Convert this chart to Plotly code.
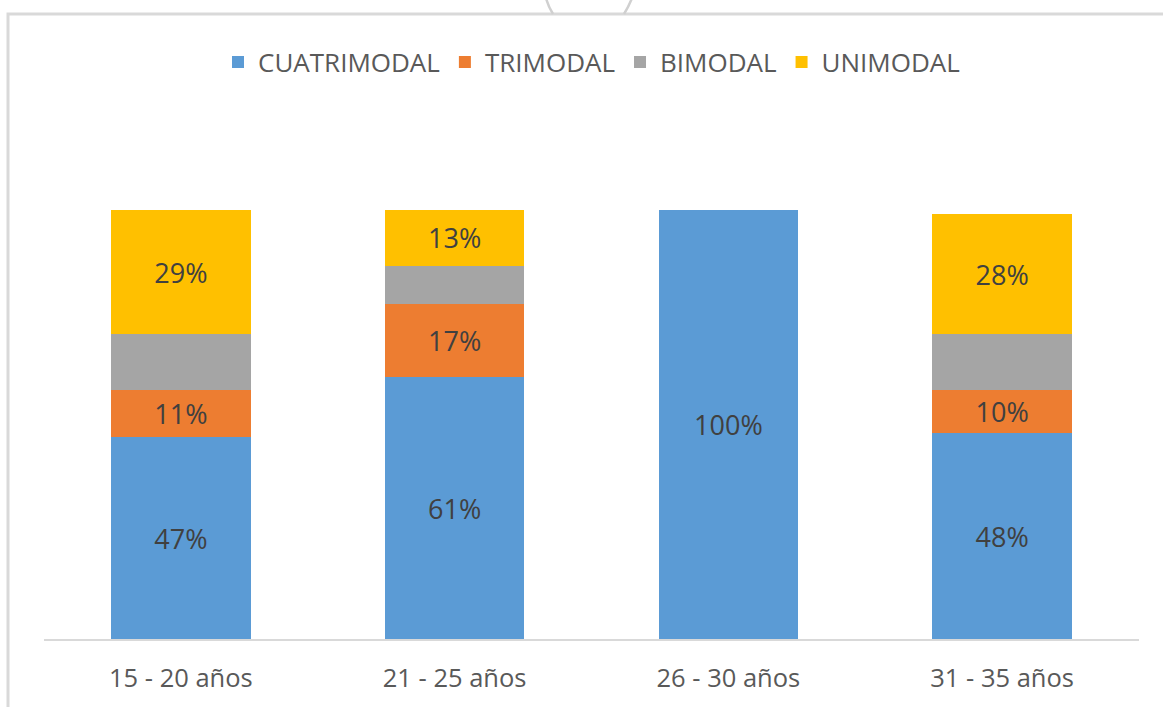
import plotly.graph_objects as go

categories = ["15 - 20 años", "21 - 25 años", "26 - 30 años", "31 - 35 años"]
series_names = ["CUATRIMODAL", "TRIMODAL", "BIMODAL", "UNIMODAL"]
cuatrimodal = [47, 61, 100, 48]
trimodal = [11, 17, 0, 10]
bimodal = [13, 9, 0, 13]
unimodal = [29, 13, 0, 28]
series_values = [cuatrimodal, trimodal, bimodal, unimodal]
series_colors = ["#5B9BD5", "#ED7D31", "#A5A5A5", "#FFC000"]
show_labels = [True, True, False, True]

W, H = 1163, 707
L, R, T, B = 44, 24, 124, 68
PW, PH = W - L - R, H - T - B


def px(x):
    return (x - L) / PW


def py(y):
    return (H - B - y) / PH


FONT = "Open Sans"
fig = go.Figure()
for name, vals, col, show in zip(series_names, series_values, series_colors, show_labels):
    txt = [f"{v}%" if (show and v > 0) else "" for v in vals]
    fig.add_trace(go.Bar(
        name=name, x=categories, y=vals, marker=dict(color=col, line=dict(width=0)),
        text=txt, textposition="inside", insidetextanchor="middle", textangle=0,
        constraintext="none",
        textfont=dict(family=FONT, size=27, color="#404040"),
        hoverinfo="skip",
    ))

shapes = [
    dict(type="rect", xref="paper", yref="paper", x0=px(8), x1=px(1175), y0=py(720), y1=py(14),
         line=dict(color="#D9D9D9", width=3), fillcolor="rgba(0,0,0,0)", layer="below"),
    dict(type="path", xref="paper", yref="paper",
         path=f"M {px(546)},{py(-2)} Q {px(548)},{py(6)} {px(553)},{py(14)}",
         line=dict(color="#D0D0D0", width=2.5)),
    dict(type="path", xref="paper", yref="paper",
         path=f"M {px(632)},{py(-2)} Q {px(629)},{py(6)} {px(624)},{py(14)}",
         line=dict(color="#D0D0D0", width=2.5)),
]

fig.update_layout(
    width=W, height=H, barmode="stack", bargap=0.49,
    margin=dict(l=L, r=R, t=T, b=B),
    paper_bgcolor="white", plot_bgcolor="white",
    font=dict(family=FONT, color="#595959"),
    showlegend=True,
    legend=dict(orientation="h", x=0.5, xanchor="center", y=py(62), yanchor="middle",
                traceorder="normal", font=dict(family=FONT, size=26, color="#595959"),
                itemwidth=30),
    xaxis=dict(showline=True, linecolor="#D9D9D9", linewidth=2, ticks="", showgrid=False,
               tickfont=dict(family=FONT, size=25.5, color="#595959"), ticklabelstandoff=15,
               fixedrange=True),
    yaxis=dict(visible=False, range=[0, 120], showgrid=False, zeroline=False, fixedrange=True),
    shapes=shapes,
)

fig.write_html("out.html", config={"displayModeBar": False},
               post_script="document.body.style.margin='0';document.body.style.overflow='hidden';")
